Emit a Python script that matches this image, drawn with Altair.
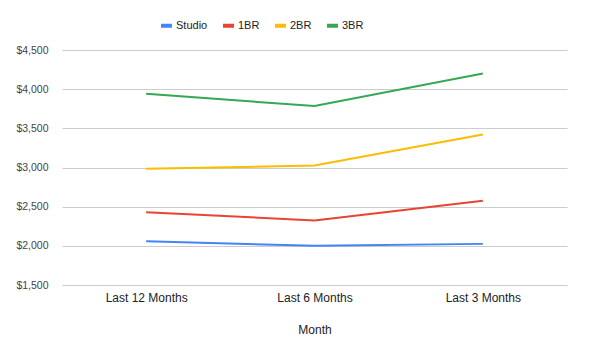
import altair as alt
import pandas as pd

months = ["Last 12 Months", "Last 6 Months", "Last 3 Months"]
series = ["Studio", "1BR", "2BR", "3BR"]
studio = [2060, 2000, 2025]
br1 = [2430, 2325, 2575]
br2 = [2985, 3025, 3420]
br3 = [3940, 3785, 4200]
colors = ["#4285F4", "#EA4335", "#FBBC04", "#34A853"]
y_ticks = [1500, 2000, 2500, 3000, 3500, 4000, 4500]

rows = []
for name, vals in zip(series, [studio, br1, br2, br3]):
    for m, v in zip(months, vals):
        rows.append({"Month": m, "Type": name, "Rent": v})
df = pd.DataFrame(rows)

font = "Liberation Sans"

chart = alt.Chart(df).mark_line(strokeWidth=2).encode(
    x=alt.X("Month:N", sort=months, title="Month",
            scale=alt.Scale(type="point", padding=0.5),
            axis=alt.Axis(labelAngle=0, domain=False, ticks=False, grid=False,
                          labelPadding=7, titlePadding=21, labelFontSize=12,
                          titleFontSize=12, labelColor="#222222", titleColor="#222222",
                          labelFont=font, titleFont=font, titleFontWeight="normal")),
    y=alt.Y("Rent:Q", title=None,
            scale=alt.Scale(domain=[1500, 4500], nice=False, zero=False),
            axis=alt.Axis(values=y_ticks, format="$,.0f", domain=False, ticks=False,
                          labelPadding=14, labelFontSize=10.5, labelColor="#444444",
                          labelFont=font, gridColor="#cccccc", gridWidth=1)),
    color=alt.Color("Type:N", sort=series,
                    scale=alt.Scale(domain=series, range=colors),
                    legend=alt.Legend(title=None, orient="none", direction="horizontal",
                                      legendX=97, legendY=-32,
                                      symbolType="stroke", symbolStrokeWidth=4,
                                      symbolSize=121, labelFontSize=11,
                                      labelFont=font, labelColor="#222222",
                                      columnPadding=7, labelOffset=2)),
).properties(
    width=505, height=235,
    autosize=alt.AutoSizeParams(type="none"),
    padding={"left": 54, "top": 42, "right": 25, "bottom": 55},
).configure_view(stroke=None)

chart.save("out.html", embed_options={"renderer": "svg", "actions": False})
